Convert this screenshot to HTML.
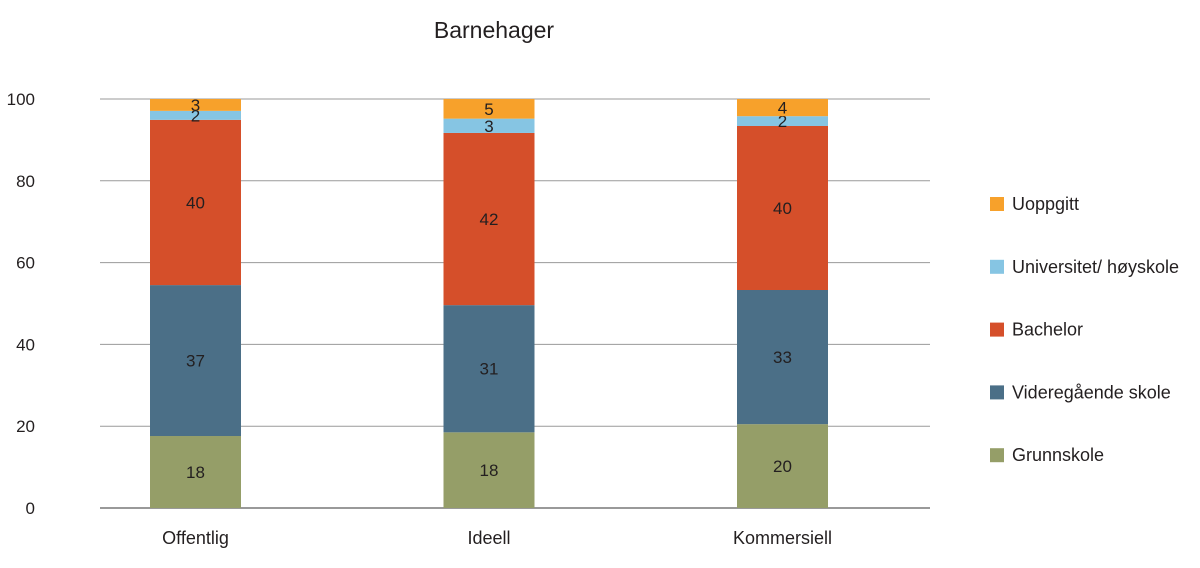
<!DOCTYPE html>
<html><head><meta charset="utf-8"><style>
body{margin:0;background:#fff;font-family:"Liberation Sans",sans-serif;}
svg text{font-family:"Liberation Sans",sans-serif;fill:#231f20;}
</style></head><body>
<svg id="chart" width="1200" height="563">
<text x="494" y="38" font-size="23" text-anchor="middle">Barnehager</text>
<g id="grid"></g><g id="bars"></g><g id="legend"></g>
</svg>
<script>
const categories=["Offentlig","Ideell","Kommersiell"];
const seriesNames=["Grunnskole","Videregående skole","Bachelor","Universitet/ høyskole","Uoppgitt"];
const colors=["#959e68","#4b6f87","#d54f2a","#86c5e3","#f7a12b"];
const grunnskole=[17.6,18.5,20.5];
const videregaende=[36.9,31.1,32.8];
const bachelor=[40.4,42.1,40.1];
const universitet=[2.2,3.5,2.4];
const uoppgitt=[2.9,4.8,4.2];
const labels=[[18,18,20],[37,31,33],[40,42,40],[2,3,2],[3,5,4]];
const yTicks=[0,20,40,60,80,100];
const series=[grunnskole,videregaende,bachelor,universitet,uoppgitt];
const NS="http://www.w3.org/2000/svg";
const y=v=>508-v*4.09;
const xc=i=>195.5+i*293.5;
const bw=91;
function mk(t,a,p){const e=document.createElementNS(NS,t);for(const k in a)e.setAttribute(k,a[k]);p.appendChild(e);return e;}
const grid=document.getElementById('grid');
yTicks.forEach(t=>{
 const l=mk('line',{x1:100,x2:930,y1:y(t),y2:y(t),stroke:t===0?'#333':'#9a9a9a','stroke-width':1},grid);
 
 
 const tx=mk('text',{x:35,y:y(t)+6,'font-size':17,'text-anchor':'end'},grid);tx.textContent=t;
 
 
});
const bars=document.getElementById('bars');
categories.forEach((c,i)=>{
 let acc=0;
 series.forEach((s,j)=>{
  const v=s[i];
  const r=mk('rect',{x:xc(i)-bw/2,y:y(acc+v),width:bw,height:v*4.09,fill:colors[j]},bars);
  
  
  const t=mk('text',{x:xc(i),y:y(acc+v/2)+6,'font-size':17,'text-anchor':'middle'},bars);
  t.textContent=labels[j][i];
  
  
  acc+=v;
 });
 const cl=mk('text',{x:xc(i),y:544,'font-size':18,'text-anchor':'middle'},bars);cl.textContent=c;
 
 
});
const leg=document.getElementById('legend');
for(let j=4;j>=0;j--){
 const yy=204+(4-j)*62.8;
 const sw=mk('rect',{x:990,y:yy-7,width:14,height:14,fill:colors[j]},leg);
 
 
 const t=mk('text',{x:1012,y:yy+6,'font-size':18},leg);t.textContent=seriesNames[j];
 
 
}
</script>
</body></html>
